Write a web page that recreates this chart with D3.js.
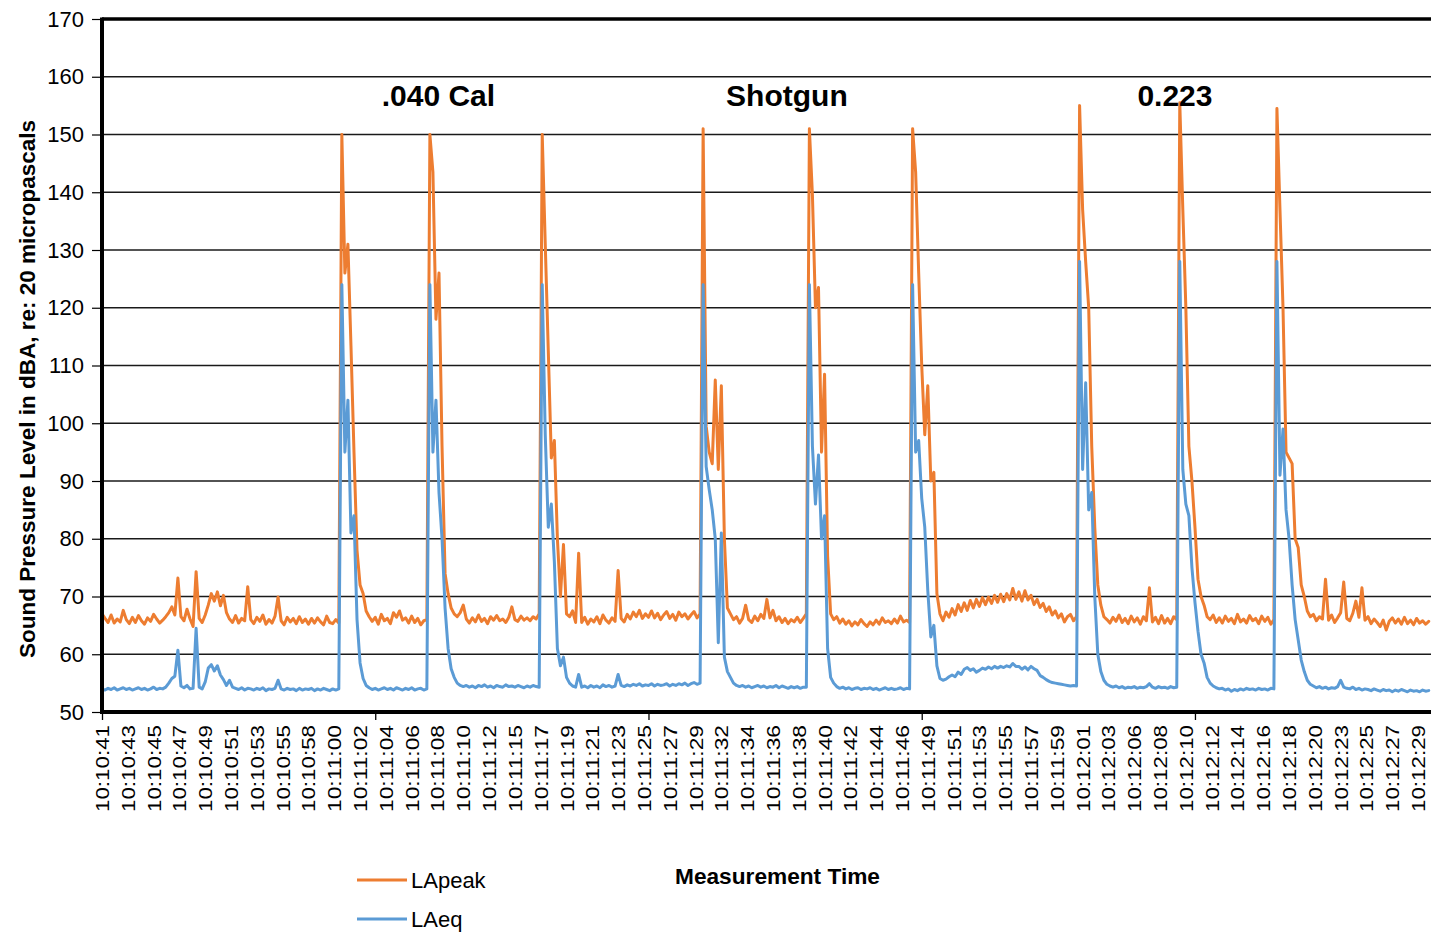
<!DOCTYPE html>
<html><head><meta charset="utf-8">
<script src="https://cdn.jsdelivr.net/npm/d3@7"></script>
<style>
body{margin:0;background:#fff;}
svg{display:block;font-family:"Liberation Sans",Arial,sans-serif;}
</style>
</head><body>
<svg id="chart" width="1431" height="935"></svg>
<script>
// ---- data ----
const timeLabels = ["10:10:41","10:10:43","10:10:45","10:10:47","10:10:49","10:10:51","10:10:53","10:10:55","10:10:58",
"10:11:00","10:11:02","10:11:04","10:11:06","10:11:08","10:11:10","10:11:12","10:11:15","10:11:17","10:11:19","10:11:21",
"10:11:23","10:11:25","10:11:27","10:11:29","10:11:32","10:11:34","10:11:36","10:11:38","10:11:40","10:11:42","10:11:44",
"10:11:46","10:11:49","10:11:51","10:11:53","10:11:55","10:11:57","10:11:59","10:12:01","10:12:03","10:12:06","10:12:08",
"10:12:10","10:12:12","10:12:14","10:12:16","10:12:18","10:12:20","10:12:23","10:12:25","10:12:27","10:12:29"];
const labelStepSec = 2.125;   // seconds between category labels
const sampleStepSec = 0.25;   // seconds between samples below
const majorTickSec = 22.5;
const yTicks = [50,60,70,80,90,100,110,120,130,140,150,160,170];
const seriesNames = ["LApeak","LAeq"];
const shotGroups = [{name:".040 Cal", t:27.7},{name:"Shotgun", t:56.4},{name:"0.223", t:88.35}];

const laPeak = [
67,66.2,65.5,66.8,65.4,66.1,65.6,67.6,66,65.3,
66.4,65.5,66.7,65.8,65.2,66.3,65.7,66.9,66.1,65.4,
65.9,66.5,67.2,68.2,66.8,73.2,66.5,65.8,67.8,66.1,
64.8,74.3,66.2,65.5,66.8,68.5,70.5,69.2,70.8,68.4,
70.2,67.2,66.1,65.5,66.7,65.4,66.2,65.8,71.7,66,
65.3,66.4,65.7,66.8,65.2,66,65.4,66.6,69.9,65.8,
65.1,66.4,65.6,66.2,65.3,66.5,65.5,66.1,65.2,66.2,
65.4,66.3,65.6,65.1,66.6,65.5,65.3,66,65.4,150,
126,131,113.5,95,78,72,70.5,67.5,66.5,65.7,
66.4,65.2,66.9,65.8,66.2,65.3,67.2,66.4,67.5,65.9,
66.3,65.4,66.6,65.5,66.2,65.1,65.8,66,150,143.5,
118,126,96,74,70.5,68,67,66.5,67.2,68.5,
66.1,65.4,66.3,65.6,66.8,65.7,66.2,65.3,66.5,65.9,
66.7,65.8,66.1,65.5,66.4,68.2,66,65.7,66.6,65.9,
66.3,65.8,66.5,66.1,67,150,131,112.5,94,97,
80,70,79,67,66.5,67.5,65.5,77.5,65.5,66.4,
65.2,66.1,65.6,66.5,65.3,66.8,65.9,65.4,66.3,65.7,
74.5,66.2,65.6,66.9,66.1,67.3,66.5,67.6,66.2,67,
66.4,67.5,66.3,67.1,66,66.8,67.4,66.2,66.9,65.9,
67.3,66.5,67,66.1,66.8,67.4,66.3,67,151,99.5,
95,93,107.5,92,106.5,80,68,67,66,66.5,
65.4,66.2,68.5,66,65.5,66.6,65.8,66.9,66.2,69.5,
66.3,67.6,65.8,66.5,65.5,66.2,65.3,66,65.6,66.4,
65.5,66.2,67,151,139.5,120,123.5,95,108.5,77,
67,66,66.5,65.4,66.1,65.2,65.8,64.9,65.6,65.1,
66,65.3,64.8,65.6,65.1,65.9,65.2,66.3,65.5,65.8,
65.3,66.1,65.4,66.6,65.6,65.9,65.5,151,143.5,126,
110,98,106.5,90,91.5,70.5,67,65.8,67.3,66.4,
67.9,66.8,68.6,67.4,68.9,67.6,69.3,68,69.5,68.3,
69.8,68.6,69.9,68.8,70.2,69,70.4,69.1,70.5,69.4,
71.4,69.5,70.8,69.2,71,69.4,70.2,68.6,69.5,68.1,
68.8,67.4,68.2,66.8,67.5,66.3,67,65.6,66.5,66.9,
65.8,66.5,155,137,128,120,96,82,72,68.5,
66.5,66,65.4,66.4,65.7,66.8,65.5,66.2,65.3,66.6,
65.6,66.3,65.2,66.5,65.8,71.5,65.6,66.4,65.3,66.7,
65.4,66.2,65.3,66.5,66,155.5,137,120,96,90,
82,73,70,68.5,66.5,66,66.8,65.5,66.3,65.4,
66.6,65.7,66.2,65.3,66.9,65.6,66.1,65.4,66.7,65.8,
66.2,65.3,66.6,65.7,66.4,65.2,66,154.5,137,120,
95,94,93,80,78.5,72,70,67.5,66.5,66.9,
65.8,66.5,66.1,73,65.9,66.8,65.5,66.3,67.2,72.5,
66.2,65.8,67.1,69.2,66.4,71.5,65.9,66.5,65.3,66.1,
65.5,64.8,65.9,64.2,65.7,66.3,65.4,66.1,65.2,66.4,
65.3,65.9,65.1,66.2,65.4,65.8,65.2,65.7];

const laEq = [
54,53.8,54.1,53.9,54.2,53.8,54,54.2,53.9,54.1,
53.8,54,54.2,53.9,54.1,53.8,54,54.3,53.9,54.1,
54,54.3,55,55.8,56.2,60.7,54.5,54.2,54.6,54,
54.1,64.5,54.3,54,55.2,57.6,58.2,57.1,58,56.4,
55.6,54.6,55.5,54.3,54.1,53.9,54.2,53.8,54.1,54,
53.8,54.1,53.9,54.2,53.7,54,53.9,54.1,55.5,54,
53.8,54.1,53.9,54,53.7,54.1,53.8,54,53.9,54.1,
53.7,54,53.8,54.1,53.9,53.7,54,53.8,54,124,
95,104,81,84,66,58.5,55.8,54.6,54.2,53.9,
54.1,53.8,54,54.2,53.9,54.1,53.8,54.2,54,53.8,
54.1,53.9,54.2,53.8,54,54.1,53.8,54,124,95,
104,88,80,68,61,57.5,56,55,54.6,54.4,
54.6,54.3,54.5,54.2,54.6,54.4,54.7,54.3,54.5,54.2,
54.6,54.4,54.3,54.7,54.4,54.5,54.3,54.6,54.4,54.2,
54.5,54.3,54.6,54.4,54.3,124,98,82,86,76,
61,58,59.5,56,55,54.5,54.3,56.5,54.3,54.5,
54.2,54.6,54.3,54.5,54.2,54.7,54.4,54.6,54.3,54.5,
56.5,54.6,54.4,54.7,54.5,54.8,54.6,54.9,54.5,54.7,
54.6,54.9,54.5,54.8,54.6,54.7,54.9,54.5,54.8,54.6,
54.9,54.7,55,54.6,54.9,55.1,54.8,55,124,92.5,
88.5,85,80,62,81,59.5,57,56,55,54.6,
54.4,54.6,54.3,54.5,54.2,54.4,54.6,54.3,54.5,54.2,
54.4,54.3,54.6,54.2,54.5,54.3,54.1,54.4,54.2,54.4,
54.1,54.3,54.3,124,96,86,94.5,80,84,61,
56,55,54.4,54.1,54.3,54,54.2,53.9,54.1,54.2,
53.9,54.1,54,54.2,53.9,54.1,53.8,54,54.2,53.9,
54.1,53.9,54,54.2,53.9,54.1,54,124,95,97,
87,82,71,63,65,58,55.8,55.5,55.7,56.1,
56.4,56.1,56.9,56.5,57.4,57.7,57.2,57.5,56.9,57.2,
57.6,57.4,57.8,57.5,57.9,57.6,57.9,57.7,58,57.8,
58.4,57.9,57.9,57.4,57.8,57.3,57.9,57.5,57.2,56.3,
56,55.6,55.3,55.1,55,54.9,54.8,54.7,54.6,54.5,
54.6,54.5,128,92,107,85,88,70,60,57,
55.5,54.8,54.5,54.3,54.5,54.2,54.4,54.1,54.3,54.2,
54.4,54.1,54.3,54.2,54.4,54.9,54.3,54.1,54.4,54.2,
54.3,54.1,54.4,54.2,54.3,128,92,86,84,75,
69,64,60,58.5,56,55,54.5,54.2,54,54.1,
53.8,54,53.6,53.9,53.7,54,53.8,54.1,53.9,54,
53.8,54.1,53.9,54,53.8,54.1,54,128,91,99,
85,80,72,66,62.5,59,57,55.5,54.8,54.5,
54.2,54.4,54.1,54.3,54,54.2,54.1,54.4,55.5,54.3,
54.1,54,54.3,53.9,54.1,53.8,54,53.9,53.7,54,
53.8,53.6,53.9,53.7,53.8,53.5,53.8,53.6,53.9,53.7,
53.5,53.8,53.6,53.7,53.5,53.8,53.6,53.7];

// ---- layout ----
const colors = ["#ED7D31","#5B9BD5"];
const plot = {left:102, top:19, bottom:712, right:1431};
const svg = d3.select("#chart");

const x = d3.scaleLinear().domain([0, 109.5]).range([plot.left, plot.left + 109.5*12.144]);
const y = d3.scaleLinear().domain([50,170]).range([plot.bottom, plot.top]);

// gridlines
svg.append("g").selectAll("line").data(yTicks.filter(v=>v>50 && v<170)).join("line")
  .attr("x1", plot.left).attr("x2", plot.right)
  .attr("y1", d=>y(d)).attr("y2", d=>y(d))
  .attr("stroke","#1a1a1a").attr("stroke-width",1.4);

// y axis
const yAxis = svg.append("g").attr("transform",`translate(${plot.left},0)`)
  .call(d3.axisLeft(y).tickValues(yTicks).tickSize(10).tickPadding(8).tickFormat(d3.format("d")));
yAxis.select(".domain").remove();
yAxis.selectAll(".tick line").attr("stroke","#000").attr("stroke-width",1.2);
yAxis.selectAll(".tick text").attr("font-size",22).attr("fill","#000")
  .attr("font-family","Liberation Sans, Arial, sans-serif");

// x axis labels
const labelTimes = timeLabels.map((d,i)=>i*labelStepSec);
const xAxis = svg.append("g").attr("transform",`translate(0,${plot.bottom})`)
  .call(d3.axisBottom(x).tickValues(labelTimes).tickSize(0).tickFormat((d,i)=>timeLabels[i]));
xAxis.select(".domain").remove();
xAxis.selectAll(".tick text")
  .attr("font-size",19).attr("fill","#000").attr("font-family","Liberation Sans, Arial, sans-serif")
  .attr("text-anchor","end").attr("dominant-baseline","central")
  .attr("transform","rotate(-90)").attr("x",-13).attr("y",0).attr("dy",null)
  .attr("textLength",87).attr("lengthAdjust","spacingAndGlyphs");

// x major tick marks
const majorTicks = d3.range(0, 109.5, majorTickSec);
const xTicks = svg.append("g").attr("transform",`translate(0,${plot.bottom})`)
  .call(d3.axisBottom(x).tickValues(majorTicks).tickSize(8).tickFormat(""));
xTicks.select(".domain").remove();
xTicks.selectAll(".tick line").attr("stroke","#000").attr("stroke-width",1.3);

// series lines
svg.append("clipPath").attr("id","pc").append("rect")
  .attr("x",plot.left).attr("y",plot.top-2).attr("width",plot.right-plot.left).attr("height",plot.bottom-plot.top+2);
const line = d3.line().x((d,i)=>x(i*sampleStepSec)).y(d=>y(d)).curve(d3.curveLinear);
const gLines = svg.append("g").attr("clip-path","url(#pc)");
[laPeak, laEq].forEach((s,i)=>{
  gLines.append("path").datum(s).attr("d",line).attr("fill","none")
    .attr("stroke",colors[i]).attr("stroke-width",3).attr("stroke-linejoin","round").attr("stroke-linecap","round");
});

// thick frame lines
svg.append("line").attr("x1",plot.left).attr("x2",plot.right).attr("y1",plot.top).attr("y2",plot.top)
  .attr("stroke","#000").attr("stroke-width",3.5);
svg.append("line").attr("x1",plot.left-1).attr("x2",plot.right).attr("y1",plot.bottom).attr("y2",plot.bottom)
  .attr("stroke","#000").attr("stroke-width",4);
svg.append("line").attr("x1",plot.left).attr("x2",plot.left).attr("y1",plot.top-1.5).attr("y2",plot.bottom+2)
  .attr("stroke","#000").attr("stroke-width",4);

// shot group annotations
svg.append("g").selectAll("text").data(shotGroups).join("text")
  .attr("x",d=>x(d.t)).attr("y",106).attr("text-anchor","middle")
  .attr("font-size",30).attr("font-weight","bold").attr("fill","#000").text(d=>d.name);

// axis titles
svg.append("text").attr("transform","translate(35,389) rotate(-90)").attr("text-anchor","middle")
  .attr("font-size",22).attr("font-weight","bold").attr("fill","#000")
  .attr("textLength",538).attr("lengthAdjust","spacingAndGlyphs")
  .text("Sound Pressure Level in dBA, re: 20 micropascals");
svg.append("text").attr("x",675).attr("y",884).attr("font-size",22).attr("font-weight","bold")
  .attr("fill","#000").attr("textLength",205).attr("lengthAdjust","spacingAndGlyphs").text("Measurement Time");

// legend
const leg = svg.append("g").selectAll("g").data(seriesNames).join("g")
  .attr("transform",(d,i)=>`translate(357,${880+i*39})`);
leg.append("line").attr("x1",0).attr("x2",50).attr("y1",0).attr("y2",0)
  .attr("stroke",(d,i)=>colors[i]).attr("stroke-width",3);
leg.append("text").attr("x",54).attr("y",8).attr("font-size",22).attr("fill","#000").text(d=>d);
</script>
</body></html>
